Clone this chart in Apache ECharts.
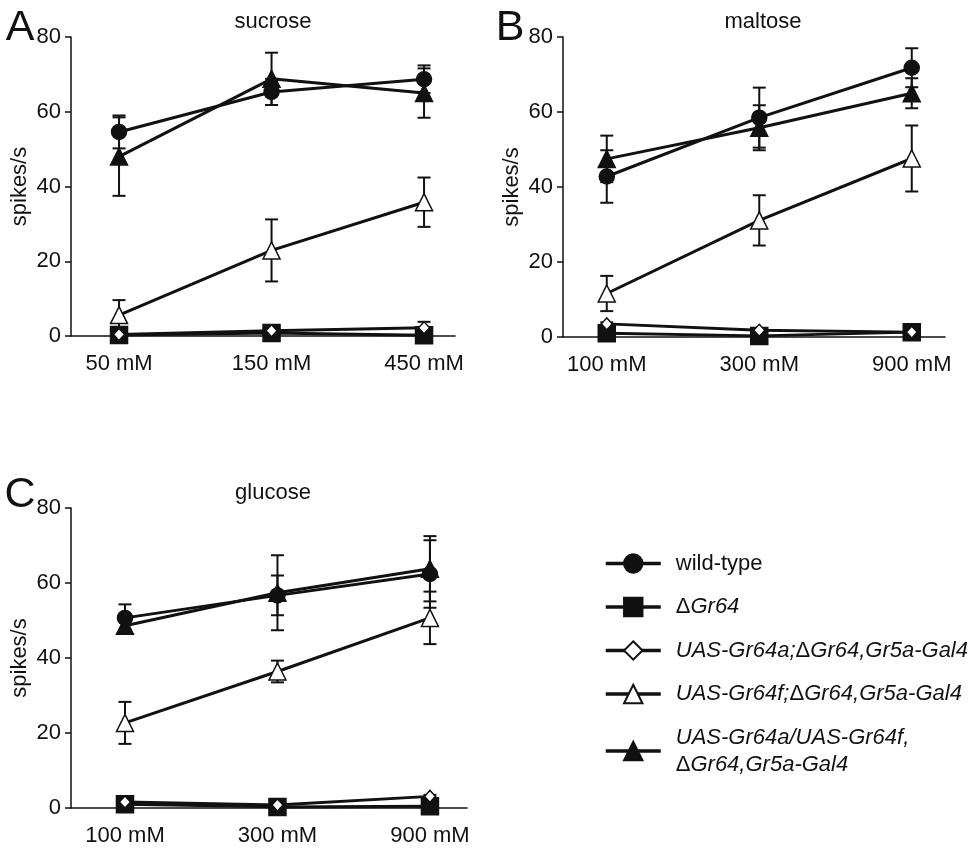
<!DOCTYPE html>
<html>
<head>
<meta charset="utf-8">
<script src="https://cdn.jsdelivr.net/npm/echarts@6/dist/echarts.min.js"></script>
<style>
html,body{margin:0;padding:0;background:#fff;}
#chart{width:975px;height:855px;}
</style>
</head>
<body>
<div id="chart"></div>
<script>
// ---------- data ----------
const panelLetters = ['A', 'B', 'C'];
const sugars = ['sucrose', 'maltose', 'glucose'];
const sucroseConc = ['50 mM', '150 mM', '450 mM'];
const maltoseConc = ['100 mM', '300 mM', '900 mM'];
const glucoseConc = ['100 mM', '300 mM', '900 mM'];
const genotypes = [
  'wild-type',
  'ΔGr64',
  'UAS-Gr64a;ΔGr64,Gr5a-Gal4',
  'UAS-Gr64f;ΔGr64,Gr5a-Gal4',
  'UAS-Gr64a/UAS-Gr64f,\nΔGr64,Gr5a-Gal4'
];
const yTicks = [0, 20, 40, 60, 80];

// means (rows: genotypes in order above; columns: concentrations)
const sucroseMeans = [
  [54.6, 65.3, 68.7],
  [0.3, 0.8, 0.2],
  [0.4, 1.4, 2.2],
  [5.6, 22.9, 35.8],
  [48.0, 68.8, 65.0]
];
const sucroseErrs = [
  [4.4, 3.5, 3.7],
  [0.3, 0.3, 0.3],
  [0.3, 0.5, 1.6],
  [4.0, 8.3, 6.6],
  [10.5, 7.0, 6.6]
];
const maltoseMeans = [
  [42.8, 58.5, 71.8],
  [1.0, 0.3, 1.3],
  [3.5, 1.8, 1.3],
  [11.6, 31.1, 47.6],
  [47.5, 55.8, 65.0]
];
const maltoseErrs = [
  [7.0, 8.0, 5.2],
  [0.3, 0.3, 0.3],
  [0.4, 0.4, 0.4],
  [4.7, 6.7, 8.8],
  [6.2, 6.0, 4.0]
];
const glucoseMeans = [
  [50.7, 56.7, 62.4],
  [1.0, 0.3, 0.5],
  [1.6, 0.8, 3.1],
  [22.7, 36.4, 50.7],
  [48.6, 57.4, 63.8]
];
const glucoseErrs = [
  [3.6, 5.3, 9.0],
  [0.3, 0.3, 0.3],
  [0.4, 0.4, 0.4],
  [5.6, 2.9, 7.0],
  [2.0, 10.0, 8.7]
];

// ---------- styling / layout ----------
const FONT = '"Liberation Sans", Arial, Helvetica, sans-serif';
const INK = '#111';
const panels = [
  {conc: sucroseConc, means: sucroseMeans, errs: sucroseErrs,
   grid: {left: 71, top: 37, width: 384, height: 299}, xmin: -0.315, xmax: 2.203,
   letter: [20, 28], title: [273, 22]},
  {conc: maltoseConc, means: maltoseMeans, errs: maltoseErrs,
   grid: {left: 563, top: 37, width: 382, height: 300}, xmin: -0.287, xmax: 2.218,
   letter: [510, 28], title: [763, 22]},
  {conc: glucoseConc, means: glucoseMeans, errs: glucoseErrs,
   grid: {left: 71, top: 508, width: 396, height: 300}, xmin: -0.354, xmax: 2.243,
   letter: [20, 495], title: [273, 493]}
];
const symbols = [
  {symbol: 'circle', size: 15, fill: INK},
  {symbol: 'rect', size: 17, fill: INK},
  {symbol: 'diamond', size: [11, 12], fill: '#fff'},
  {symbol: 'triangle', size: 17, fill: '#fff'},
  {symbol: 'triangle', size: 17, fill: INK}
];

const grids = [], xAxes = [], yAxes = [], series = [], graphics = [];
panels.forEach((p, pi) => {
  grids.push(Object.assign({containLabel: false}, p.grid));
  xAxes.push({
    type: 'value', gridIndex: pi, min: p.xmin, max: p.xmax,
    axisLine: {show: true, onZero: false, lineStyle: {color: INK, width: 1.5}},
    axisTick: {show: false},
    splitLine: {show: false},
    axisLabel: {
      customValues: [0, 1, 2],
      formatter: v => p.conc[Math.round(v)],
      fontSize: 22, fontFamily: FONT, color: INK, margin: 17
    }
  });
  yAxes.push({
    type: 'value', gridIndex: pi, min: 0, max: 80, interval: 20,
    name: 'spikes/s', nameLocation: 'middle', nameGap: 40,
    nameTextStyle: {fontSize: 22, fontFamily: FONT, color: INK},
    axisLine: {show: true, onZero: false, lineStyle: {color: INK, width: 1.5}},
    axisTick: {show: true, inside: false, length: 6, lineStyle: {color: INK, width: 1.5}},
    splitLine: {show: false},
    axisLabel: {
      customValues: yTicks,
      fontSize: 22, fontFamily: FONT, color: INK, margin: 10
    }
  });
  // error bars
  genotypes.forEach((g, gi) => {
    const data = p.means[gi].map((m, ci) => [ci, m - p.errs[gi][ci], m + p.errs[gi][ci]]);
    series.push({
      type: 'custom', xAxisIndex: pi, yAxisIndex: pi, z: 1, silent: true,
      data: data,
      renderItem: (params, api) => {
        const x = api.value(0);
        const lo = api.coord([x, api.value(1)]);
        const hi = api.coord([x, api.value(2)]);
        const cw = 6.5;
        const st = {stroke: INK, lineWidth: 2};
        return {
          type: 'group',
          children: [
            {type: 'line', shape: {x1: lo[0], y1: lo[1], x2: hi[0], y2: hi[1]}, style: st},
            {type: 'line', shape: {x1: lo[0] - cw, y1: lo[1], x2: lo[0] + cw, y2: lo[1]}, style: st},
            {type: 'line', shape: {x1: hi[0] - cw, y1: hi[1], x2: hi[0] + cw, y2: hi[1]}, style: st}
          ]
        };
      }
    });
  });
  // lines
  genotypes.forEach((g, gi) => {
    const s = symbols[gi];
    series.push({
      type: 'line', name: g, xAxisIndex: pi, yAxisIndex: pi, z: 2 + gi,
      data: p.means[gi].map((m, ci) => [ci, m]),
      symbol: s.symbol, symbolSize: s.size, showSymbol: true,
      lineStyle: {color: INK, width: 3},
      itemStyle: {color: s.fill, borderColor: INK, borderWidth: 1.5, opacity: 1},
      emphasis: {disabled: true},
      animation: false
    });
  });
  graphics.push({
    type: 'text', x: p.letter[0], y: p.letter[1],
    style: {text: panelLetters[pi], font: '43px ' + FONT, fill: INK, textAlign: 'center', textVerticalAlign: 'middle'}
  });
  graphics.push({
    type: 'text', x: p.title[0], y: p.title[1],
    style: {text: sugars[pi], font: '22px ' + FONT, fill: INK, textAlign: 'center', textVerticalAlign: 'middle'}
  });
});

function legendLabel(name) {
  if (name === 'wild-type') return name;
  return name.split('\n').map(line =>
    line.split('Δ').map(part => part ? '{i|' + part + '}' : '').join('{n|Δ}')
  ).join('\n');
}

const option = {
  backgroundColor: '#fff',
  animation: false,
  grid: grids,
  xAxis: xAxes,
  yAxis: yAxes,
  series: series,
  graphic: graphics,
  legend: {
    orient: 'vertical', left: 599, top: 545,
    itemWidth: 55, itemHeight: 23, itemGap: 16.5,
    selectedMode: false,
    data: genotypes,
    formatter: legendLabel,
    lineStyle: {width: 3.5, color: INK},
    textStyle: {
      fontSize: 22, fontFamily: FONT, color: INK, padding: [0, 0, 0, 10], lineHeight: 27,
      rich: {
        i: {fontStyle: 'italic', fontSize: 22, fontFamily: FONT, color: INK, lineHeight: 27},
        n: {fontSize: 22, fontFamily: FONT, color: INK, lineHeight: 27}
      }
    }
  }
};

const chart = echarts.init(document.getElementById('chart'), null, {renderer: 'canvas'});
chart.setOption(option);
</script>
</body>
</html>
